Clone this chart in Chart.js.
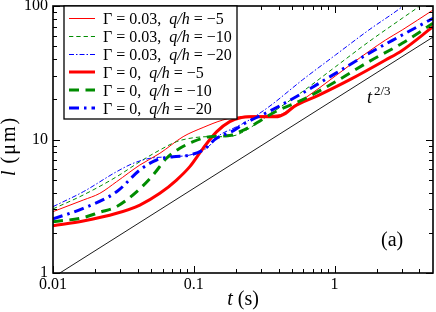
<!DOCTYPE html>
<html>
<head>
<meta charset="utf-8">
<script src="https://cdn.jsdelivr.net/npm/chart.js@4.4.1/dist/chart.umd.min.js"></script>
<style>
html,body{margin:0;padding:0;background:#fff;}
#wrap{width:436px;height:312px;position:relative;}
canvas{display:block;}
.fl{position:absolute;left:-1000px;top:0;font-family:"Liberation Serif";font-size:16px;}
.fl i{font-style:italic;}
</style>
</head>
<body>
<span class="fl">0.01 Γ <i>q/h t</i> μm</span>
<div id="wrap"><canvas id="c" width="436" height="312" style="width:436px;height:312px"></canvas></div>
<script>
// ---- data (t in s, l in um) ----
const t_g003_q5  = [0.01, 0.0164, 0.0215, 0.0283, 0.0414, 0.0574, 0.084, 0.1164, 0.161, 0.212, 0.25, 0.403, 0.501, 0.774, 1.335, 2.30, 3.02, 5.0];
const l_g003_q5  = [2.88, 3.52, 3.95, 4.83, 6.44, 7.88, 10.5, 12.3, 14.0, 14.8, 15.0, 15.3, 17.6, 24.2, 37.2, 55.6, 66.1, 93.3];

const t_g003_q10 = [0.01, 0.0164, 0.0283, 0.0414, 0.0574, 0.0754, 0.0989, 0.130, 0.171, 0.201, 0.25, 0.342, 0.59, 1.016, 1.751, 3.02, 3.96, 4.3];
const l_g003_q10 = [3.02, 3.84, 5.26, 6.82, 8.34, 9.63, 10.3, 10.5, 10.5, 10.8, 12.2, 15.3, 22.8, 35.1, 54.0, 80.9, 98.8, 106];

const t_g003_q20 = [0.01, 0.0164, 0.0283, 0.0371, 0.0488, 0.0676, 0.0937, 0.123, 0.153, 0.190, 0.2365, 0.342, 0.59, 1.016, 1.751, 3.02, 3.3];
const l_g003_q20 = [3.14, 4.06, 5.74, 6.63, 7.23, 7.43, 7.65, 8.59, 10.8, 12.1, 13.6, 17.6, 27.9, 43.0, 66.1, 98.8, 107];

const t_g0_q5    = [0.01, 0.0164, 0.0283, 0.0414, 0.0574, 0.0754, 0.0937, 0.1164, 0.145, 0.180, 0.218, 0.25, 0.3815, 0.449, 0.514, 0.774, 1.335, 2.30, 3.02, 5.0];
const l_g0_q5    = [2.26, 2.45, 2.80, 3.23, 3.95, 4.97, 6.26, 8.59, 11.4, 13.6, 14.6, 14.8, 14.8, 15.7, 17.6, 21.5, 28.7, 39.4, 46.5, 70.0];

const t_g0_q10   = [0.01, 0.0164, 0.0215, 0.0283, 0.0392, 0.0514, 0.064, 0.0796, 0.0989, 0.130, 0.18, 0.215, 0.25, 0.3815, 0.59, 1.016, 1.751, 3.02, 5.0];
const l_g0_q10   = [2.42, 2.60, 2.85, 3.14, 4.06, 5.42, 7.23, 8.59, 9.63, 10.5, 10.7, 11.5, 12.4, 16.2, 19.8, 27.1, 38.3, 52.6, 74.2];

const t_g0_q20   = [0.01, 0.0164, 0.0283, 0.0414, 0.0544, 0.0713, 0.0937, 0.1164, 0.145, 0.190, 0.224, 0.342, 0.59, 1.016, 1.751, 3.02, 5.0];
const l_g0_q20   = [2.54, 3.05, 4.06, 5.91, 7.02, 7.43, 7.65, 8.34, 10.2, 11.6, 13.0, 16.2, 22.2, 31.3, 44.2, 60.6, 80.9];

// reference power law t^(2/3), end points
const t_ref = [0.01, 5.0];
const l_ref = [0.928, 58.5];

// ---- legend / tick texts ----
const gammaLabels = ['0.03', '0.03', '0.03', '0', '0', '0'];
const qhLabels    = ['\u22125', '\u221210', '\u221220', '\u22125', '\u221210', '\u221220'];

const xMajorTicks = [0.01, 0.1, 1];
const xTickLabels = ['0.01', '0.1', '1'];
const xMinorTicks = [0.02,0.03,0.04,0.05,0.06,0.07,0.08,0.09,0.2,0.3,0.4,0.5,0.6,0.7,0.8,0.9,2,3,4];
const yMajorTicks = [1, 10, 100];
const yTickLabels = ['1', '10', '100'];
const yMinorTicks = [2,3,4,5,6,7,8,9,20,30,40,50,60,70,80,90];

const SERIF = '"Liberation Serif", "DejaVu Serif", serif';
const RED = '#ff0000', GREEN = '#008c00', BLUE = '#0000ff';

function pts(ts, ls) { return ts.map((t, i) => ({x: t, y: ls[i]})); }

function series(label, ts, ls, color, width, dash, order) {
  return {
    label, data: pts(ts, ls), borderColor: color, backgroundColor: color,
    borderWidth: width, borderDash: dash, pointRadius: 0, fill: false,
    cubicInterpolationMode: 'monotone', order, isLegend: true
  };
}

const datasets = [
  series('g003_q5',  t_g003_q5,  l_g003_q5,  RED,   1, [], 6),
  series('g003_q10', t_g003_q10, l_g003_q10, GREEN, 1, [4.3, 3], 5),
  series('g003_q20', t_g003_q20, l_g003_q20, BLUE,  1, [5, 2, 1.5, 2], 4),
  series('g0_q5',    t_g0_q5,    l_g0_q5,    RED,   3, [], 3),
  series('g0_q10',   t_g0_q10,   l_g0_q10,   GREEN, 3, [10, 6.5], 2),
  series('g0_q20',   t_g0_q20,   l_g0_q20,   BLUE,  3, [10, 5, 2.5, 5], 1),
  { label: 'ref', data: pts(t_ref, l_ref), borderColor: '#000', borderWidth: 0.9,
    pointRadius: 0, fill: false, order: 7, isLegend: false }
];

const decor = {
  id: 'decor',
  afterDraw(chart) {
    const ctx = chart.ctx, ca = chart.chartArea;
    const xs = chart.scales.x, ys = chart.scales.y;
    ctx.save();
    ctx.strokeStyle = '#000';
    ctx.lineWidth = 1;
    ctx.setLineDash([]);
    const tickX = (v, len) => {
      const p = Math.round(xs.getPixelForValue(v)) + 0.5;
      ctx.beginPath();
      ctx.moveTo(p, ca.bottom); ctx.lineTo(p, ca.bottom - len);
      ctx.moveTo(p, ca.top); ctx.lineTo(p, ca.top + len);
      ctx.stroke();
    };
    const tickY = (v, len) => {
      const p = Math.round(ys.getPixelForValue(v)) + 0.5;
      ctx.beginPath();
      ctx.moveTo(ca.left, p); ctx.lineTo(ca.left + len, p);
      ctx.moveTo(ca.right, p); ctx.lineTo(ca.right - len, p);
      ctx.stroke();
    };
    xMajorTicks.forEach(v => tickX(v, 7));
    xMinorTicks.forEach(v => tickX(v, 4));
    yMajorTicks.forEach(v => tickY(v, 7));
    yMinorTicks.forEach(v => tickY(v, 4));

    // frame
    ctx.lineWidth = 1.6;
    ctx.strokeRect(ca.left, ca.top, ca.right - ca.left, ca.bottom - ca.top);

    // legend
    const lx0 = 64, ly0 = ca.top, lx1 = 237, ly1 = 119;
    ctx.fillStyle = '#fff';
    ctx.fillRect(lx0, ly0, lx1 - lx0, ly1 - ly0);
    ctx.lineWidth = 1.3;
    ctx.strokeRect(lx0, ly0, lx1 - lx0, ly1 - ly0);
    const legendSets = chart.data.datasets.filter(d => d.isLegend);
    legendSets.forEach((d, i) => {
      const cy = 18 + 18 * i;
      ctx.save();
      ctx.strokeStyle = d.borderColor;
      ctx.lineWidth = d.borderWidth;
      ctx.setLineDash(d.borderDash || []);
      ctx.beginPath();
      ctx.moveTo(69, cy + (d.borderWidth === 1 ? 0.5 : 0));
      ctx.lineTo(95, cy + (d.borderWidth === 1 ? 0.5 : 0));
      ctx.stroke();
      ctx.restore();
      ctx.fillStyle = '#000';
      ctx.textBaseline = 'alphabetic';
      ctx.textAlign = 'left';
      let x = 103; const by = cy + 5.5;
      const p1 = '\u0393 = ' + gammaLabels[i] + ',  ';
      ctx.font = '16px ' + SERIF; ctx.fillText(p1, x, by); x += ctx.measureText(p1).width;
      ctx.font = 'italic 16px ' + SERIF; ctx.fillText('q/h', x, by); x += ctx.measureText('q/h').width;
      ctx.font = '16px ' + SERIF; ctx.fillText(' = ' + qhLabels[i], x, by);
    });

    // x title: t (s)
    ctx.fillStyle = '#000';
    ctx.textBaseline = 'alphabetic';
    ctx.textAlign = 'left';
    ctx.font = 'italic 20px ' + SERIF;
    const wT = ctx.measureText('t').width;
    ctx.font = '20px ' + SERIF;
    const wS = ctx.measureText(' (s)').width;
    let sx = (ca.left + ca.right) / 2 - (wT + wS) / 2;
    ctx.font = 'italic 20px ' + SERIF; ctx.fillText('t', sx, 305);
    ctx.font = '20px ' + SERIF; ctx.fillText(' (s)', sx + wT, 305);

    // y title: l (um), rotated
    ctx.save();
    ctx.translate(15, 176);
    ctx.rotate(-Math.PI / 2);
    ctx.font = 'italic 20px ' + SERIF; ctx.fillText('l', 0, 0);
    const wl = ctx.measureText('l').width;
    ctx.font = '20px ' + SERIF;
    if ('letterSpacing' in ctx) ctx.letterSpacing = '2px';
    ctx.fillText(' (\u03bcm)', wl, 0);
    ctx.restore();

    // annotations
    ctx.font = '20px ' + SERIF;
    ctx.fillText('(a)', 381, 246);
    ctx.font = 'italic 18px ' + SERIF;
    ctx.fillText('t', 367, 103);
    ctx.font = '13px ' + SERIF;
    ctx.fillText('2/3', 374, 95);
    ctx.restore();
  }
};

function build() {
  new Chart(document.getElementById('c'), {
    type: 'line',
    data: { datasets },
    options: {
      responsive: false,
      animation: false,
      devicePixelRatio: 1,
      layout: { padding: { top: 6, right: 3, bottom: 0, left: 0 } },
      plugins: { legend: { display: false }, tooltip: { enabled: false } },
      scales: {
        x: {
          type: 'logarithmic', position: 'bottom', min: 0.01, max: 5,
          grid: { display: false, drawTicks: false },
          border: { display: false },
          ticks: {
            autoSkip: false, maxRotation: 0, padding: 2, color: '#000',
            font: { family: SERIF, size: 16 },
            callback: (v, i) => xTickLabels[i]
          },
          afterBuildTicks: s => { s.ticks = xMajorTicks.map(v => ({ value: v })); },
          afterFit: s => { s.height = 39; s.paddingLeft = 0; s.paddingRight = 0; }
        },
        y: {
          type: 'logarithmic', position: 'left', min: 1, max: 100,
          grid: { display: false, drawTicks: false },
          border: { display: false },
          ticks: {
            autoSkip: false, padding: 5, color: '#000',
            font: { family: SERIF, size: 16 },
            callback: (v, i) => yTickLabels[i]
          },
          afterBuildTicks: s => { s.ticks = yMajorTicks.map(v => ({ value: v })); },
          afterFit: s => { s.width = 53; s.paddingTop = 0; s.paddingBottom = 0; }
        }
      }
    },
    plugins: [decor]
  });
}

const loads = [
  '16px "Liberation Serif"', 'italic 16px "Liberation Serif"'
].map(f => document.fonts.load(f).catch(() => null));
Promise.all(loads).then(build, build);
</script>
</body>
</html>
